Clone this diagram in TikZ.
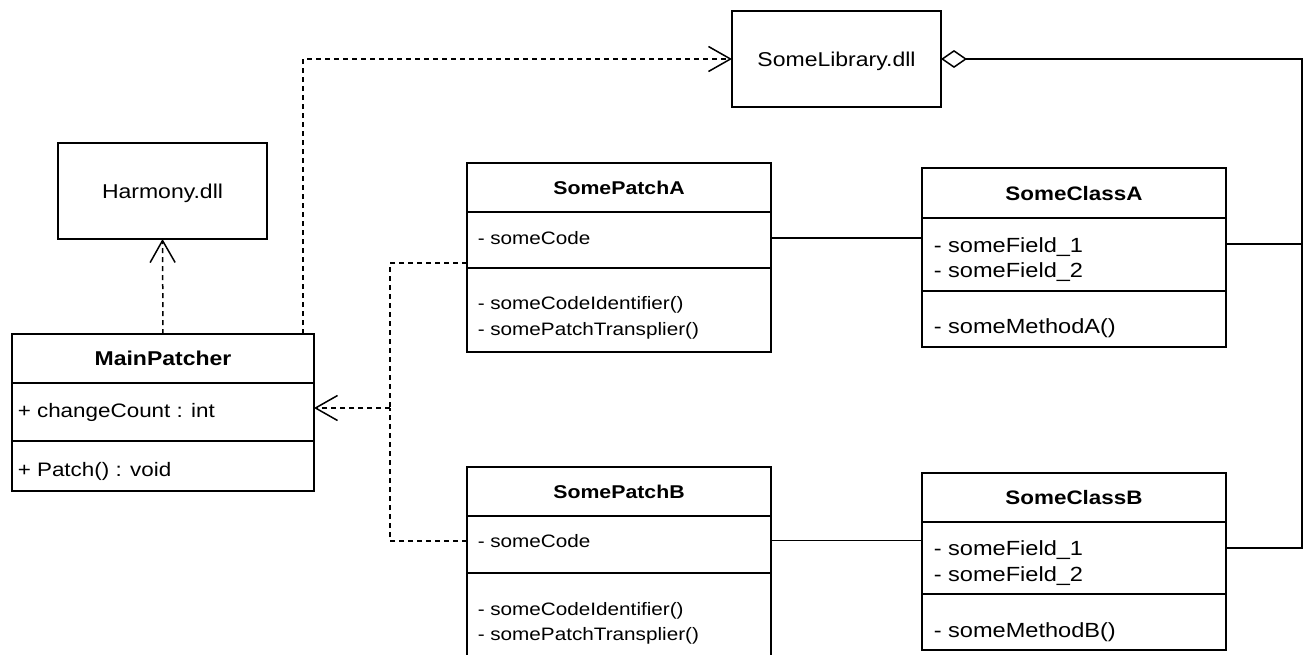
\documentclass[tikz,border=0pt]{standalone}
\usepackage{fontspec}
\setmainfont{Liberation Sans}[FakeStretch=1.15]
\usetikzlibrary{arrows.meta,calc}
\newcommand\fszP{\fontsize{18}{22}\selectfont}
\newcommand\fszC{\fontsize{20.5}{24}\selectfont}
\newcommand\fszM{\fontsize{19.5}{23}\selectfont}
\newcommand\fszL{\fontsize{20}{24}\selectfont}
\begin{document}
\begin{tikzpicture}[x=1pt,y=-1pt,line width=1.5pt,
  comp/.style={draw,line width=1.5pt,fill=white,inner sep=0pt,outer sep=0pt,anchor=north west,text depth=0pt},
  plainbox/.style={draw,line width=1.5pt,fill=white,inner sep=0pt,outer sep=0pt,font=\fszL,text height=14.3pt,text depth=0pt,minimum width=209pt,minimum height=96pt},
  mem/.style={anchor=base west,inner sep=0pt},
  pw/.style={minimum width=304pt},
  mw/.style={minimum width=302pt},
  dashline/.style={dash pattern=on 5pt off 4pt},
  dep/.style={dashline,-{Straight Barb[length=22pt,width=25pt]}},
  agg/.style={{Diamond[open,fill=white,length=26pt,width=18pt]}-}]
\useasboundingbox (0,0) rectangle (1307,654);
\clip (0,0) rectangle (1307,654);
\fill[white] (0,0) rectangle (1307,654);

% library boxes
\node[plainbox] (harmony) at (162.5,191) {Harmony.dll};
\node[plainbox] (lib) at (836.5,59) {SomeLibrary.dll};

% MainPatcher
\node[comp,mw,minimum height=49pt,font=\fontsize{20}{24}\selectfont\bfseries,text height=14.3pt] (mpH) at (12,334) {MainPatcher};
\node[comp,mw,minimum height=58pt] (mpF) at (12,383) {};
\node[comp,mw,minimum height=50pt] (mpM) at (12,441) {};
\node[mem,font=\fszM] (mpF1) at (17,417) {+ changeCount : int};
\node[mem,font=\fszM] (mpM1) at (17,476) {+ Patch() : void};

% SomePatchA
\node[comp,pw,minimum height=49pt,font=\fontsize{18.5}{22}\selectfont\bfseries,text height=13.2pt] (paH) at (467,163) {SomePatchA};
\node[comp,pw,minimum height=56pt] (paF) at (467,212) {};
\node[comp,pw,minimum height=84pt] (paM) at (467,268) {};
\node[mem,font=\fszP] (paF1) at (477,244) {- someCode};
\node[mem,font=\fszP] (paM1) at (477,309) {- someCodeIdentifier()};
\node[mem,font=\fszP] (paM2) at (477,335) {- somePatchTransplier()};

% SomePatchB
\node[comp,pw,minimum height=49pt,font=\fontsize{18.5}{22}\selectfont\bfseries,text height=13.2pt] (pbH) at (467,467) {SomePatchB};
\node[comp,pw,minimum height=57pt] (pbF) at (467,516) {};
\node[comp,pw,minimum height=84pt] (pbM) at (467,573) {};
\node[mem,font=\fszP] (pbF1) at (477,547) {- someCode};
\node[mem,font=\fszP] (pbM1) at (477,615) {- someCodeIdentifier()};
\node[mem,font=\fszP] (pbM2) at (477,640) {- somePatchTransplier()};

% SomeClassA
\node[comp,pw,minimum height=50pt,font=\fontsize{19.5}{23}\selectfont\bfseries,text height=14pt] (caH) at (922,168) {SomeClassA};
\node[comp,pw,minimum height=73pt] (caF) at (922,218) {};
\node[comp,pw,minimum height=56pt] (caM) at (922,291) {};
\node[mem,font=\fszC] (caF1) at (933,252) {- someField\_1};
\node[mem,font=\fszC] (caF2) at (933,277) {- someField\_2};
\node[mem,font=\fszC] (caM1) at (933,333) {- someMethodA()};

% SomeClassB
\node[comp,pw,minimum height=49pt,font=\fontsize{19.5}{23}\selectfont\bfseries,text height=14pt] (cbH) at (922,473) {SomeClassB};
\node[comp,pw,minimum height=72pt] (cbF) at (922,522) {};
\node[comp,pw,minimum height=56pt] (cbM) at (922,594) {};
\node[mem,font=\fszC] (cbF1) at (933,555) {- someField\_1};
\node[mem,font=\fszC] (cbF2) at (933,581) {- someField\_2};
\node[mem,font=\fszC] (cbM1) at (933,637) {- someMethodB()};

% connectors
\draw[dep] (mpH.north) -- (harmony.south);
\draw[dep] ([xshift=-11pt]mpH.north east) |- (lib.west);
\coordinate (jn) at (390,408);
\draw[dashline] ([yshift=5pt]paF.south west) -| (jn);
\draw[dashline] ([yshift=3.5pt]pbF.west) -| (jn);
\draw[dep] (jn) -- (jn -| mpF.east);
\draw ([yshift=2pt]paF.east) -- ([yshift=2pt]paF.east -| caF.west);
\draw ([yshift=4pt]pbF.east) -- ([yshift=4pt]pbF.east -| cbF.west);
\coordinate (rb) at (1302,548);
\draw[agg] (lib.east) -| (rb) -- (rb -| cbF.east);
\draw ([yshift=10.5pt]caF.east) -- ([yshift=10.5pt]caF.east -| rb);
\end{tikzpicture}
\end{document}
